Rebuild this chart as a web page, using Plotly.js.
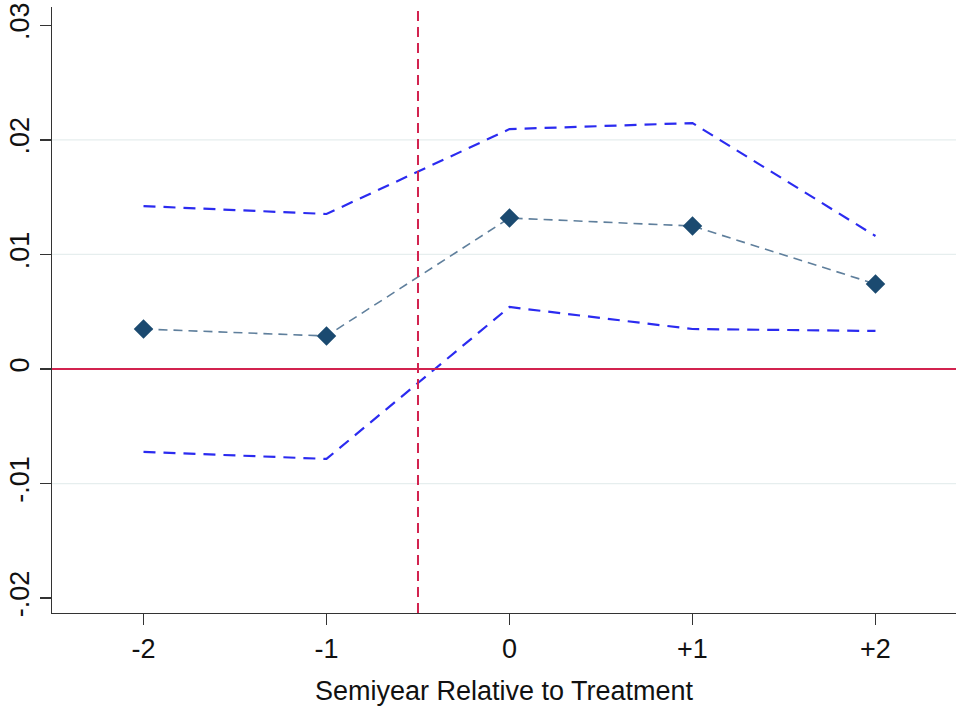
<!DOCTYPE html>
<html>
<head>
<meta charset="utf-8">
<script src="https://cdn.plot.ly/plotly-3.0.1.min.js"></script>
<style>html,body{margin:0;padding:0;background:#fff;}#chart{width:956px;height:710px;}</style>
</head>
<body>
<div id="chart"></div>
<script>
const periods = [-2, -1, 0, 1, 2];
const tickLabels = ['-2', '-1', '0', '+1', '+2'];
const estimate = [0.00349, 0.00288, 0.01318, 0.01248, 0.00742];
const upperCI = [0.01422, 0.01353, 0.02094, 0.02147, 0.01161];
const lowerCI = [-0.00724, -0.00785, 0.00541, 0.00349, 0.00332];
const yTicks = [-0.02, -0.01, 0, 0.01, 0.02, 0.03];
const yTickLabels = ['-.02', '-.01', '0', '.01', '.02', '.03'];
const gridValues = [-0.01, 0.01, 0.02];
const treatmentLine = -0.5;
const xTitle = 'Semiyear Relative to Treatment';

const traces = [
  {x: periods, y: upperCI, mode: 'lines', line: {color: '#2b2bf0', width: 2.2, dash: '12px,8px'}, hoverinfo: 'skip'},
  {x: periods, y: lowerCI, mode: 'lines', line: {color: '#2b2bf0', width: 2.2, dash: '12px,8px'}, hoverinfo: 'skip'},
  {x: periods, y: estimate, mode: 'lines+markers',
   line: {color: '#5f7f9c', width: 1.6, dash: '9px,6px'},
   marker: {symbol: 'diamond', size: 15, color: '#1b4a70'}}
];

const shapes = gridValues.map(v => ({
  type: 'line', layer: 'below', xref: 'paper', x0: 0, x1: 1, yref: 'y', y0: v, y1: v,
  line: {color: '#e6eeee', width: 1.3}
}));
shapes.push(
  {type: 'line', xref: 'paper', x0: 0, x1: 1, yref: 'y', y0: 0, y1: 0, line: {color: '#d2234f', width: 2}},
  {type: 'line', xref: 'x', x0: treatmentLine, x1: treatmentLine, yref: 'paper', y0: 0, y1: 1, line: {color: '#d2234f', width: 2, dash: '10px,6px'}}
);

const layout = {
  width: 956, height: 710,
  margin: {l: 52, r: 0, t: 7, b: 97},
  paper_bgcolor: '#fff', plot_bgcolor: '#fff',
  showlegend: false,
  font: {family: 'Liberation Sans, Arial, sans-serif', color: '#111', size: 27},
  xaxis: {
    range: [-2.5, 2.44], tickvals: periods, ticktext: tickLabels,
    showgrid: false, zeroline: false, showline: true, linecolor: '#333', linewidth: 1.3,
    ticks: 'outside', ticklen: 11, tickcolor: '#333', tickwidth: 1.3,
    tickfont: {size: 27},
    title: {text: xTitle, font: {size: 27}, standoff: 18}
  },
  yaxis: {
    range: [-0.0213, 0.0316], tickvals: yTicks, ticktext: yTickLabels, tickangle: -90,
    showgrid: false,
    zeroline: false, showline: true, linecolor: '#333', linewidth: 1.3,
    ticks: 'outside', ticklen: 11, tickcolor: '#333', tickwidth: 1.3,
    tickfont: {size: 27}
  },
  shapes: shapes
};

Plotly.newPlot('chart', traces, layout, {displayModeBar: false, staticPlot: true});
</script>
</body>
</html>
